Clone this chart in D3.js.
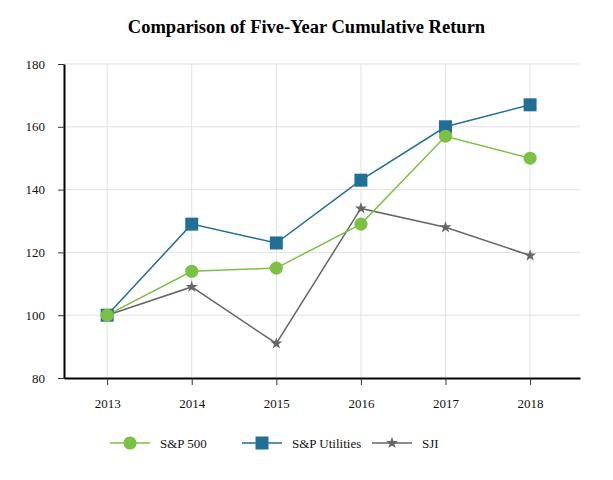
<!DOCTYPE html>
<html><head><meta charset="utf-8">
<script src="https://cdn.jsdelivr.net/npm/d3@7"></script>
<style>body{margin:0;background:#fff}svg{display:block}</style>
</head><body>
<svg id="c" width="613" height="480"></svg>
<script>
const years = [2013, 2014, 2015, 2016, 2017, 2018];
const sp500 = [100, 114, 115, 129, 157, 150];
const spUtilities = [100, 129, 123, 143, 160, 167];
const sji = [100, 109, 91, 134, 128, 119];
const yTicks = [80, 100, 120, 140, 160, 180];
const seriesNames = ["S&P 500", "S&P Utilities", "SJI"];

const colors = {"S&P 500": "#7bc143", "S&P Utilities": "#226f96", "SJI": "#666666"};
const symbols = {"S&P 500": d3.symbolCircle, "S&P Utilities": d3.symbolSquare, "SJI": d3.symbolStar};
const symSize = {"S&P 500": 135, "S&P Utilities": 169, "SJI": 45};
const font = "'Liberation Serif','Times New Roman',serif";

const svg = d3.select("#c");
const L = 64, R = 580, T = 64, B = 378;
const x = d3.scaleLinear().domain([2012.49, 2018.59]).range([L, R]);
const y = d3.scaleLinear().domain([80, 180]).range([B, T]);

svg.append("text").attr("x", 306.5).attr("y", 33).attr("text-anchor", "middle")
  .attr("font-family", font).attr("font-weight", "bold").attr("font-size", 18.5)
  .attr("fill", "#000").text("Comparison of Five-Year Cumulative Return");

// gridlines
svg.append("g").selectAll("line").data(yTicks.slice(1)).join("line")
  .attr("x1", L).attr("x2", R).attr("y1", d => y(d)).attr("y2", d => y(d))
  .attr("stroke", "#e2e2e2").attr("stroke-width", 1);
svg.append("g").selectAll("line").data(years).join("line")
  .attr("x1", d => x(d)).attr("x2", d => x(d)).attr("y1", T).attr("y2", B)
  .attr("stroke", "#e2e2e2").attr("stroke-width", 1);

// axes
const yAxis = svg.append("g").attr("transform", `translate(${L},0)`)
  .call(d3.axisLeft(y).tickValues(yTicks).tickSize(6).tickPadding(13).tickSizeOuter(0));
const xAxis = svg.append("g").attr("transform", `translate(0,${B})`)
  .call(d3.axisBottom(x).tickValues(years).tickFormat(d3.format("d")).tickSize(7).tickPadding(14).tickSizeOuter(0));
[yAxis, xAxis].forEach(g => {
  g.attr("font-family", font).attr("font-size", 13);
  g.select(".domain").attr("stroke", "#000").attr("stroke-width", 2);
  g.selectAll(".tick line").attr("stroke", "#333");
  g.selectAll("text").attr("fill", "#111");
});

const data = {"S&P 500": sp500, "S&P Utilities": spUtilities, "SJI": sji};
const order = ["S&P Utilities", "SJI", "S&P 500"];
const line = d3.line().x((d, i) => x(years[i])).y(d => y(d));
order.forEach(name => {
  svg.append("path").datum(data[name]).attr("d", line)
    .attr("fill", "none").attr("stroke", colors[name]).attr("stroke-width", 1.5);
});
order.forEach(name => {
  svg.append("g").selectAll("path").data(data[name]).join("path")
    .attr("transform", (d, i) => `translate(${x(years[i])},${y(d)})`)
    .attr("d", d3.symbol().type(symbols[name]).size(symSize[name]))
    .attr("fill", colors[name]);
});

// legend
const legendX = [110, 242, 372];
const lg = svg.append("g");
seriesNames.forEach((name, k) => {
  const x0 = legendX[k], ly = 443;
  lg.append("line").attr("x1", x0).attr("x2", x0 + 40).attr("y1", ly).attr("y2", ly)
    .attr("stroke", colors[name]).attr("stroke-width", 1.5);
  lg.append("path").attr("transform", `translate(${x0 + 20},${ly})`)
    .attr("d", d3.symbol().type(symbols[name]).size(symSize[name])).attr("fill", colors[name]);
  lg.append("text").attr("x", x0 + 50).attr("y", ly + 4.5).attr("font-family", font)
    .attr("font-size", 13).attr("fill", "#111").text(name);
});
</script>
</body></html>
